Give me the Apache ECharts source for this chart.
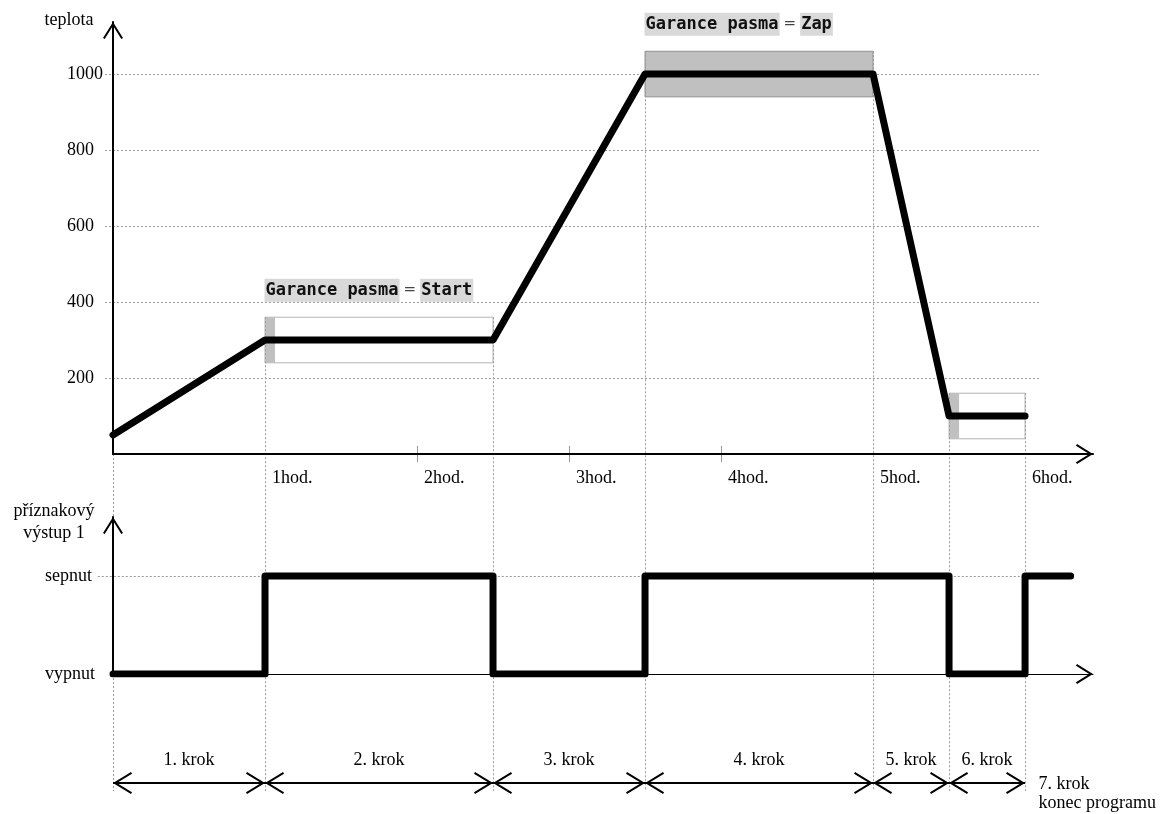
<!DOCTYPE html>
<html>
<head>
<meta charset="utf-8">
<script src="https://cdn.jsdelivr.net/npm/echarts@6/dist/echarts.min.js"></script>
<style>
html,body{margin:0;padding:0;background:#fff}
#c{width:1166px;height:814px}
</style>
</head>
<body>
<div id="c"></div>
<script>
// ---------------- data ----------------
const profileTimes = [0, 1, 2.5, 3.5, 5, 5.5, 6];          // hours
const profileTemps = [50, 300, 300, 1000, 1000, 100, 100];  // teplota
const tempTicks = [200, 400, 600, 800, 1000];
const hourTicks = [1, 2, 3, 4, 5, 6];
const hourLabels = ['1hod.', '2hod.', '3hod.', '4hod.', '5hod.', '6hod.'];
const minorHourTicks = [2, 3, 4];
const bandStarts = [1, 3.5, 5.5];
const bandEnds = [2.5, 5, 6];
const bandSetpoints = [300, 1000, 100];
const bandHalfWidth = 60;
const bandModes = ['Start', 'Zap', 'Start'];
const bandCaptions = ['Garance pasma = Start', 'Garance pasma = Zap', ''];
const startHoldDuration = 0.066; // hours
const outputTimes = [0, 1, 2.5, 3.5, 5.5, 6, 6.3];
const outputStates = [0, 1, 0, 1, 0, 1, 1];
const outputLevels = [0, 1];
const outputLevelLabels = ['vypnut', 'sepnut'];
const stepBoundaries = [0, 1, 2.5, 3.5, 5, 5.5, 6];
const stepNames = ['1. krok', '2. krok', '3. krok', '4. krok', '5. krok', '6. krok'];
const finalStepName = '7. krok\nkonec programu';

// ---------------- layout / style ----------------
const SERIF = 'Liberation Serif';
const MONO = 'DejaVu Sans Mono';
const X_MAX = 6.447;
const T_MAX = 1137;
const OUT_MAX = 1.6;
const STEP_ROW = 0.5;
const GUIDE_BOTTOM_PX = 791;
const UP_GRID_FROM = -0.053, UP_GRID_TO = 6.1;
const LO_GRID_FROM = -0.1, LO_GRID_TO = 6.23;
const AXIS_ARROW = 'path://M10,-17.06M10,0L20,16L18.3,17.06L10,3.77L1.7,17.06L0,16Z';
const STEP_ARROW = 'path://M11,-19.04M11,0L22,18L20.29,19.04L11,3.84L1.71,19.04L0,18Z';
const GRID_STYLE = {stroke: '#9a9a9a', lineWidth: 1, lineDash: [2, 2]};

const textBase = {fontFamily: SERIF, fontSize: 18, color: '#000'};

function hLineRender(params, api) {
  const a = api.coord([api.value(0), api.value(1)]);
  const b = api.coord([api.value(2), api.value(1)]);
  const y = Math.round(a[1]) + 0.5;
  return {type: 'line', shape: {x1: a[0], y1: y, x2: b[0], y2: y}, style: Object.assign({}, GRID_STYLE)};
}
function guideRender(params, api) {
  const a = api.coord([api.value(0), api.value(1)]);
  const x = Math.round(a[0]) + 0.5;
  return {type: 'line', shape: {x1: x, y1: a[1], x2: x, y2: GUIDE_BOTTOM_PX}, style: Object.assign({}, GRID_STYLE)};
}
function tickRender(params, api) {
  const a = api.coord([api.value(0), api.value(1)]);
  const x = Math.round(a[0]) + 0.5;
  return {type: 'line', shape: {x1: x, y1: a[1] - 8, x2: x, y2: a[1] + 8}, style: {stroke: '#999', lineWidth: 1}};
}

// guide tops from bands
function guideTop(t) {
  for (let i = 0; i < bandStarts.length; i++) {
    if (t === bandStarts[i] || t === bandEnds[i]) return bandSetpoints[i] + bandHalfWidth;
  }
  return 0;
}

function captionRich(caption) {
  const parts = caption.split(' = ');
  return '{hl|' + parts[0] + '}{eq|=}{hl|' + parts[1] + '}';
}

const areas = [];
bandStarts.forEach(function (s, i) {
  const lo = bandSetpoints[i] - bandHalfWidth;
  const hi = bandSetpoints[i] + bandHalfWidth;
  const whole = bandModes[i] === 'Zap';
  const label = bandCaptions[i] ? {
    show: true,
    position: [0, -38],
    formatter: captionRich(bandCaptions[i]),
    rich: {
      hl: {fontFamily: MONO, fontWeight: 'bold', fontSize: 17, color: '#111', backgroundColor: '#d9d9d9', padding: [3, 1, 3, 1]},
      eq: {fontFamily: 'DejaVu Sans', fontSize: 15, color: '#444', padding: [0, 4, 0, 4]}
    }
  } : {show: false};
  areas.push([
    {coord: [s, hi], itemStyle: whole
      ? {color: '#c0c0c0', borderColor: '#909090', borderWidth: 1}
      : {color: 'rgba(0,0,0,0)', borderColor: '#b4b4b4', borderWidth: 1},
     label: label},
    {coord: [bandEnds[i], lo]}
  ]);
  if (!whole) {
    areas.push([
      {coord: [s, hi], itemStyle: {color: '#c0c0c0', borderWidth: 0}, label: {show: false}},
      {coord: [s + startHoldDuration, lo]}
    ]);
  }
});

const stepLines = stepNames.map(function (n, i) {
  return [{name: n, coord: [stepBoundaries[i], STEP_ROW]}, {coord: [stepBoundaries[i + 1], STEP_ROW]}];
});

const chart = echarts.init(document.getElementById('c'), null, {renderer: 'canvas'});

const option = {
  animation: false,
  backgroundColor: '#ffffff',
  textStyle: {fontFamily: SERIF},
  grid: [
    {left: 113, top: 22, width: 980, height: 432, outerBoundsMode: 'none', containLabel: false},
    {left: 113, top: 517, width: 980, height: 157, outerBoundsMode: 'none', containLabel: false},
    {left: 113, top: 753, width: 980, height: 60, outerBoundsMode: 'none', containLabel: false}
  ],
  xAxis: [
    {
      gridIndex: 0, type: 'value', min: 0, max: X_MAX, interval: 1, z: 3,
      axisLine: {show: true, onZero: true, lineStyle: {color: '#000', width: 2}, symbol: ['none', AXIS_ARROW], symbolSize: [20, 34.12]},
      axisTick: {show: false}, splitLine: {show: false},
      axisLabel: Object.assign({}, textBase, {
        align: 'left', margin: 15, padding: [0, 0, 0, 7],
        formatter: function (v) { const i = hourTicks.indexOf(v); return i >= 0 ? hourLabels[i] : ''; }
      })
    },
    {
      gridIndex: 1, type: 'value', min: 0, max: X_MAX, interval: 1, z: 3,
      axisLine: {show: true, lineStyle: {color: '#000', width: 1}, symbol: ['none', AXIS_ARROW], symbolSize: [20, 34.12]},
      axisTick: {show: false}, splitLine: {show: false}, axisLabel: {show: false}
    },
    {gridIndex: 2, type: 'value', min: 0, max: X_MAX, show: false}
  ],
  yAxis: [
    {
      gridIndex: 0, type: 'value', min: 0, max: T_MAX, interval: 200, z: 3,
      name: 'teplota', nameLocation: 'end', nameGap: 2, nameMoveOverlap: false,
      nameTextStyle: Object.assign({}, textBase, {align: 'center', verticalAlign: 'middle', padding: [0, 88, 0, 0]}),
      axisLine: {show: true, lineStyle: {color: '#000', width: 2}, symbol: ['none', AXIS_ARROW], symbolSize: [20, 34.12]},
      axisTick: {show: false}, splitLine: {show: false},
      axisLabel: Object.assign({}, textBase, {
        align: 'left', margin: 46,
        formatter: function (v) { return tempTicks.indexOf(v) >= 0 ? String(v) : ''; }
      })
    },
    {
      gridIndex: 1, type: 'value', min: 0, max: OUT_MAX, interval: 1, z: 3,
      name: 'příznakový\nvýstup 1', nameLocation: 'end', nameGap: -5, nameMoveOverlap: false,
      nameTextStyle: Object.assign({}, textBase, {align: 'center', verticalAlign: 'middle', lineHeight: 22, padding: [0, 118, 0, 0]}),
      axisLine: {show: true, lineStyle: {color: '#000', width: 2}, symbol: ['none', AXIS_ARROW], symbolSize: [20, 34.12]},
      axisTick: {show: false}, splitLine: {show: false},
      axisLabel: Object.assign({}, textBase, {
        align: 'left', margin: 68,
        formatter: function (v) { const i = outputLevels.indexOf(v); return i >= 0 ? outputLevelLabels[i] : ''; }
      })
    },
    {gridIndex: 2, type: 'value', min: 0, max: 1, show: false}
  ],
  series: [
    {
      type: 'custom', name: 'gridUpper', xAxisIndex: 0, yAxisIndex: 0, z: 1, silent: true,
      dimensions: ['from', 'level', 'to'], encode: {x: ['from', 'to'], y: 'level'},
      data: tempTicks.map(function (v) { return [UP_GRID_FROM, v, UP_GRID_TO]; }),
      renderItem: hLineRender
    },
    {
      type: 'custom', name: 'gridLower', xAxisIndex: 1, yAxisIndex: 1, z: 1, silent: true,
      dimensions: ['from', 'level', 'to'], encode: {x: ['from', 'to'], y: 'level'},
      data: outputLevels.filter(function (l) { return l > 0; }).map(function (l) { return [LO_GRID_FROM, l, LO_GRID_TO]; }),
      renderItem: hLineRender
    },
    {
      type: 'custom', name: 'guides', xAxisIndex: 0, yAxisIndex: 0, z: 1, silent: true,
      encode: {x: 0, y: 1},
      data: stepBoundaries.map(function (t) { return [t, guideTop(t)]; }),
      renderItem: guideRender
    },
    {
      type: 'custom', name: 'hourTicks', xAxisIndex: 0, yAxisIndex: 0, z: 1, silent: true,
      encode: {x: 0, y: 1},
      data: minorHourTicks.map(function (h) { return [h, 0]; }),
      renderItem: tickRender
    },
    {
      type: 'line', name: 'teplota', xAxisIndex: 0, yAxisIndex: 0, z: 4, silent: true,
      data: profileTimes.map(function (t, i) { return [t, profileTemps[i]]; }),
      symbol: 'none',
      lineStyle: {color: '#000', width: 7, cap: 'round', join: 'round'},
      markArea: {silent: true, data: areas}
    },
    {
      type: 'line', name: 'vystup', xAxisIndex: 1, yAxisIndex: 1, z: 4, silent: true,
      step: 'end',
      data: outputTimes.map(function (t, i) { return [t, outputStates[i]]; }),
      symbol: 'none',
      lineStyle: {color: '#000', width: 7, cap: 'round', join: 'round'}
    },
    {
      type: 'scatter', name: 'kroky', xAxisIndex: 2, yAxisIndex: 2, z: 4, silent: true,
      data: [[stepBoundaries[stepBoundaries.length - 1], STEP_ROW]],
      symbol: 'circle', symbolSize: 1, itemStyle: {color: 'rgba(0,0,0,0)', opacity: 1},
      label: Object.assign({}, textBase, {show: true, opacity: 1, position: [14, -8], align: 'left', lineHeight: 19, formatter: finalStepName}),
      markLine: {
        silent: true,
        symbol: [STEP_ARROW, STEP_ARROW], symbolSize: [22, 38.08],
        lineStyle: {color: '#000', width: 2, type: 'solid'},
        label: Object.assign({}, textBase, {show: true, position: 'middle', distance: 14, formatter: '{b}'}),
        data: stepLines
      }
    }
  ]
};
chart.setOption(option);
</script>
</body>
</html>
